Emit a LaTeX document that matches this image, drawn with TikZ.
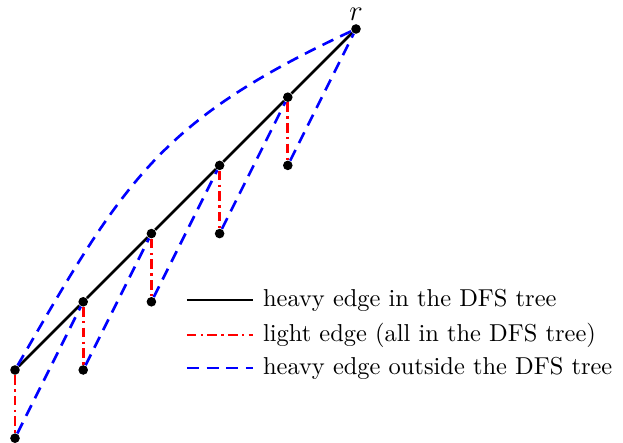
\documentclass[tikz,border=0pt]{standalone}
\begin{document}
\begin{tikzpicture}[x=1cm,y=1cm,
  dot/.style={circle,fill=black,inner sep=0pt,minimum size=4pt},
  heavyin/.style={black,line width=1.1pt},
  lightedge/.style={red,line width=1.1pt,dash pattern=on 4pt off 1.8pt on 1pt off 1.8pt},
  heavyout/.style={blue,line width=1.1pt,dash pattern=on 5pt off 3.2pt},
  legtext/.style={anchor=west,inner sep=0pt,font=\fontsize{10.2}{12}\selectfont}]
\useasboundingbox (-0.22,-1.07) rectangle (8.915,5.425);
\foreach \i in {0,...,5} {\node[dot] (s\i) at (\i,\i) {};}
\foreach \i in {0,...,4} {\node[dot] (c\i) at (\i,\i-1) {};}
\node[anchor=south,inner sep=0pt,yshift=3.3pt] (rl) at (s5) {\large$r$};
% heavy edges in DFS tree
\draw[heavyin] (s0) -- (s1) -- (s2) -- (s3) -- (s4) -- (s5);
% light edges
\foreach \i in {0,...,4} {\draw[lightedge] (s\i) -- (c\i);}
% heavy edges outside
\foreach \i/\j in {0/1,1/2,2/3,3/4,4/5} {\draw[heavyout] (c\i) -- (s\j);}
\draw[heavyout] (s0) to[out=60,in=205,looseness=1.15] (s5);
% legend
\coordinate (l1a) at (2.52,1.026); \coordinate (l1b) at (3.49,1.026);
\coordinate (l2a) at (2.52,0.513); \coordinate (l2b) at (3.49,0.513);
\coordinate (l3a) at (2.52,0.03); \coordinate (l3b) at (3.49,0.03);
\draw[heavyin] (l1a) -- (l1b);
\draw[lightedge] (l2a) -- (l2b);
\draw[heavyout] (l3a) -- (l3b);
\node[legtext] (t1) at (3.63,1.026) {heavy edge in the DFS tree};
\node[legtext] (t2) at (3.63,0.513) {light edge (all in the DFS tree)};
\node[legtext] (t3) at (3.63,0.03) {heavy edge outside the DFS tree};
\end{tikzpicture}
\end{document}
